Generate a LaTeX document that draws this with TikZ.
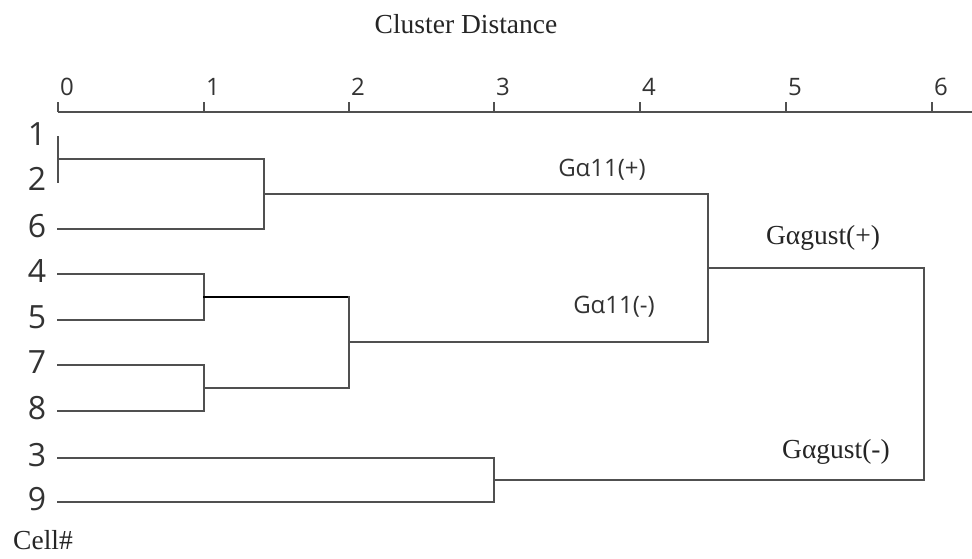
\documentclass[tikz,border=0pt]{standalone}
\usepackage{fontspec}
\setmainfont{Liberation Serif}
\newfontfamily\numfont{Open Sans}
\definecolor{linegray}{HTML}{505050}
\definecolor{textgray}{HTML}{333333}
\definecolor{serifink}{HTML}{252525}
\begin{document}
\begin{tikzpicture}[x=1pt,y=-1pt,
  branch/.style={draw=linegray, line width=2.5pt, line cap=rect},
  strongbranch/.style={draw=black, line width=2.8pt, line cap=rect},
  axisline/.style={draw=linegray, line width=2.5pt},
  leaflab/.style={font=\numfont\fontsize{32}{32}\selectfont, text=textgray, inner sep=0pt},
  ticklab/.style={font=\numfont\fontsize{24}{24}\selectfont, text=textgray, inner sep=0pt, anchor=south west},
  grouplab/.style={font=\numfont\fontsize{24}{24}\selectfont, text=textgray, inner sep=0pt},
  seriflab/.style={font=\fontsize{27.5}{27.5}\selectfont, text=serifink, inner sep=0pt}]
\useasboundingbox (0,0) rectangle (972,558);
\fill[white] (0,0) rectangle (972,558);

% distance axis
\node[seriflab] (title) at (466,24) {Cluster Distance};
\coordinate (axL) at (58,112);
\coordinate (axR) at (972,112);
\draw[axisline] (axL) -- (axR);
\foreach \d/\x in {0/58,1/204,2/349,3/494,4/640,5/786,6/932}{
  \coordinate (tick\d) at (\x,112);
  \draw[axisline] (tick\d) -- ++(0,-10);
  \node[ticklab] (tl\d) at (\x+2,96) {\d};
}

% leaves: name / y position
\foreach \n/\y in {1/137,2/182,6/229,4/274,5/320,7/365,8/411,3/458,9/502}{
  \node[leaflab] (lab\n) at (37,\y-3) {\n};
  \coordinate (leaf\n) at (58,\y);
}
\node[seriflab] (cell) at (43,540) {Cell\#};

% merge points
\coordinate (m12) at (58,159);
\coordinate (m126) at (264,194);
\coordinate (m45) at (204,297);
\coordinate (m78) at (204,388);
\coordinate (m4578) at (349,342);
\coordinate (mA) at (708,268);
\coordinate (m39) at (494,480);
\coordinate (mRoot) at (924,374);

% cluster {1,2} at distance 0
\draw[branch] (leaf1) -- (leaf2);
% cluster {1,2,6}
\draw[branch] (m12) -| (m126) |- (leaf6);
% cluster {4,5}
\draw[branch] (leaf4) -| (m45) |- (leaf5);
% cluster {7,8}
\draw[branch] (leaf7) -| (m78) |- (leaf8);
% cluster {4,5,7,8}
\draw[strongbranch] (m45) -- (m45 -| m4578);
\draw[branch] (m45 -| m4578) -- (m78 -| m4578) -- (m78);
% G alpha 11 split
\draw[branch] (m126) -| (mA) |- (m4578);
% cluster {3,9}
\draw[branch] (leaf3) -| (m39) |- (leaf9);
% root
\draw[branch] (mA) -| (mRoot) |- (m39);

% group labels
\node[grouplab] (gp) at (602,170) {Gα11(+)};
\node[grouplab] (gm) at (614,307) {Gα11(-)};
\node[seriflab] (gup) at (823,238) {Gαgust(+)};
\node[seriflab] (gum) at (836,452) {Gαgust(-)};
\end{tikzpicture}
\end{document}
